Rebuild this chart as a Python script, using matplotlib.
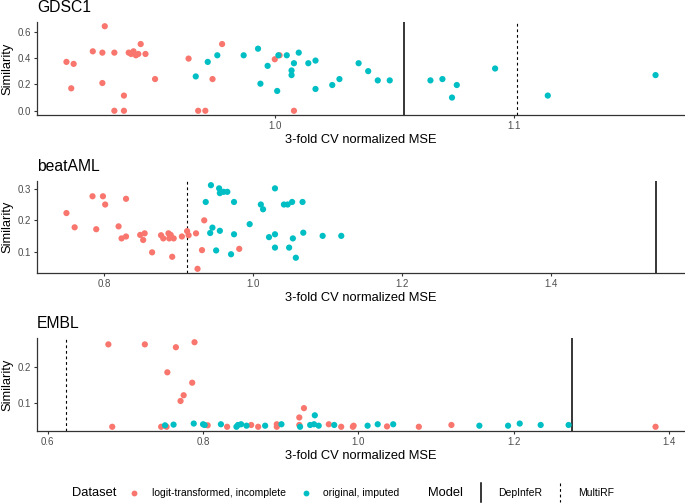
import numpy as np
import matplotlib
matplotlib.use("Agg")
import matplotlib.pyplot as plt
from matplotlib.lines import Line2D

plt.rcParams['font.family'] = ['Liberation Sans', 'DejaVu Sans']

RED = "#F8766D"
CYAN = "#00BFC4"

panels = ["GDSC1", "beatAML", "EMBL"]
dataset_labels = ["logit-transformed, incomplete", "original, imputed"]
model_labels = ["DepInfeR", "MultiRF"]

# ---------------- GDSC1 ----------------
gdsc_logit_x = [0.913, 0.916, 0.915, 0.929, 0.924, 0.928, 0.933, 0.928, 0.937, 0.933,
                0.937, 0.939, 0.941, 0.940, 0.942, 0.943, 0.944, 0.946, 0.950, 0.964,
                0.968, 0.971, 0.974, 0.978, 1.000, 1.002, 1.008]
gdsc_logit_y = [0.37, 0.355, 0.17, 0.64, 0.45, 0.44, 0.44, 0.21, 0.115, 0.0,
                0.0, 0.44, 0.45, 0.43, 0.42, 0.43, 0.505, 0.43, 0.24, 0.395,
                0.0, 0.0, 0.24, 0.505, 0.39, 0.42, 0.0]
gdsc_orig_x = [0.967, 0.972, 0.976, 0.987, 0.993, 0.994, 0.997, 1.001, 1.0015, 1.005,
               1.007, 1.007, 1.008, 1.010, 1.014, 1.017, 1.017, 1.024, 1.027, 1.035,
               1.039, 1.043, 1.048, 1.065, 1.070, 1.074, 1.076, 1.092, 1.114, 1.159]
gdsc_orig_y = [0.26, 0.37, 0.42, 0.42, 0.47, 0.205, 0.34, 0.15, 0.42, 0.42,
               0.305, 0.27, 0.36, 0.44, 0.36, 0.38, 0.165, 0.195, 0.24, 0.36,
               0.30, 0.23, 0.23, 0.23, 0.24, 0.10, 0.195, 0.32, 0.115, 0.27]
gdsc_vlines = [1.054, 1.101]  # DepInfeR, MultiRF

# ---------------- beatAML ----------------
beat_logit_x = [0.749, 0.760, 0.784, 0.798, 0.801, 0.789, 0.819, 0.829, 0.823, 0.829,
                0.848, 0.854, 0.852, 0.864, 0.876, 0.879, 0.886, 0.887, 0.889, 0.891,
                0.893, 0.904, 0.911, 0.913, 0.923, 0.925, 0.931, 0.934, 0.981]
beat_logit_y = [0.223, 0.178, 0.276, 0.276, 0.250, 0.172, 0.181, 0.268, 0.143, 0.149,
                0.154, 0.159, 0.138, 0.099, 0.153, 0.143, 0.159, 0.143, 0.154, 0.085,
                0.143, 0.149, 0.166, 0.153, 0.159, 0.047, 0.106, 0.200, 0.110]
beat_orig_x = [0.943, 0.936, 0.945, 0.942, 0.950, 0.955, 0.954, 0.955, 0.960, 0.965,
               0.974, 0.970, 0.974, 0.995, 1.010, 1.013, 1.021, 1.029, 1.029, 1.029,
               1.041, 1.046, 1.048, 1.052, 1.053, 1.057, 1.066, 1.067, 1.093, 1.118]
beat_orig_y = [0.311, 0.258, 0.177, 0.160, 0.105, 0.167, 0.301, 0.286, 0.290, 0.290,
               0.258, 0.093, 0.156, 0.188, 0.250, 0.235, 0.147, 0.114, 0.156, 0.301,
               0.250, 0.250, 0.114, 0.258, 0.143, 0.082, 0.258, 0.161, 0.151, 0.151]
beat_vlines = [1.540, 0.911]

# ---------------- EMBL ----------------
embl_logit_x = [0.678, 0.725, 0.765, 0.789, 0.754, 0.786, 0.775, 0.771, 0.683, 0.746,
                0.753, 0.806, 0.831, 0.862, 0.871, 0.895, 0.895, 0.924, 0.930, 0.924,
                0.962, 0.978, 0.994, 0.993, 1.037, 1.078, 1.120, 1.383]
embl_logit_y = [0.263, 0.263, 0.255, 0.269, 0.185, 0.156, 0.121, 0.105, 0.033, 0.033,
                0.033, 0.037, 0.033, 0.038, 0.033, 0.040, 0.033, 0.059, 0.085, 0.038,
                0.040, 0.033, 0.036, 0.033, 0.034, 0.033, 0.038, 0.033]
embl_orig_x = [0.751, 0.762, 0.788, 0.800, 0.802, 0.823, 0.843, 0.845, 0.849, 0.856,
               0.880, 0.901, 0.925, 0.938, 0.943, 0.944, 0.949, 0.969, 1.012, 1.025,
               1.045, 1.156, 1.193, 1.208, 1.235, 1.271]
embl_orig_y = [0.037, 0.039, 0.042, 0.040, 0.038, 0.040, 0.033, 0.038, 0.040, 0.036,
               0.036, 0.040, 0.033, 0.038, 0.040, 0.065, 0.036, 0.038, 0.036, 0.040,
               0.040, 0.036, 0.036, 0.042, 0.038, 0.038]
embl_vlines = [1.276, 0.624]

data = [
    (gdsc_logit_x, gdsc_logit_y, gdsc_orig_x, gdsc_orig_y, gdsc_vlines, [1.0, 1.1], [0.0, 0.2, 0.4, 0.6]),
    (beat_logit_x, beat_logit_y, beat_orig_x, beat_orig_y, beat_vlines, [0.8, 1.0, 1.2, 1.4], [0.1, 0.2, 0.3]),
    (embl_logit_x, embl_logit_y, embl_orig_x, embl_orig_y, embl_vlines, [0.6, 0.8, 1.0, 1.2, 1.4], [0.1, 0.2]),
]

W, H = 685, 503
fig = plt.figure(figsize=(W / 100, H / 100), dpi=100)

# axes boxes in pixels: (top, bottom)
boxes = [(22, 115), (181, 273), (338, 431)]
left_px = 37

AX_COL = "#333333"
TXT_COL = "#4D4D4D"

def expand(vals):
    lo, hi = min(vals), max(vals)
    r = hi - lo
    return lo - 0.05 * r, hi + 0.05 * r

for (name, (lx, ly, ox, oy, vl, xt, yt), (top, bot)) in zip(panels, data, boxes):
    ax = fig.add_axes([left_px / W, 1 - bot / H, (W - left_px) / W, (bot - top) / H])
    ax.scatter(lx, ly, s=20, color=RED, edgecolors='none', zorder=3)
    ax.scatter(ox, oy, s=20, color=CYAN, edgecolors='none', zorder=3)
    ax.axvline(vl[0], color='black', lw=1.1, ls='-', zorder=2)
    ax.axvline(vl[1], color='black', lw=0.8, ls=(0, (2.5, 2.5)), zorder=2)
    ax.set_xlim(*expand(list(lx) + list(ox) + list(vl)))
    ax.set_ylim(*expand(list(ly) + list(oy)))
    ax.set_xticks(xt)
    ax.set_xticklabels([f"{v:.1f}" for v in xt])
    ax.set_yticks(yt)
    ax.set_yticklabels([f"{v:.1f}" for v in yt])
    for s in ['top', 'right']:
        ax.spines[s].set_visible(False)
    for s in ['left', 'bottom']:
        ax.spines[s].set_color(AX_COL)
        ax.spines[s].set_linewidth(0.9)
    ax.tick_params(axis='both', colors=AX_COL, labelcolor=TXT_COL, labelsize=7,
                   length=2.5, width=0.8, pad=2)
    ax.set_xlabel("3-fold CV normalized MSE", fontsize=9.3, color='black', labelpad=2)
    ax.set_ylabel("Similarity", fontsize=9.3, color='black', labelpad=2.5)
    ax.set_title(name, loc='left', fontsize=11.3, color='black', pad=7)
    ax.set_facecolor('white')

# ---------------- legend ----------------
ly_px = 492.5
yf = 1 - ly_px / H
def fx(px):
    return px / W

fig.text(fx(72), yf, "Dataset", fontsize=9.3, va='center', ha='left')
fig.add_artist(Line2D([fx(134)], [yf], marker='o', markersize=4.2, color=RED, ls='none',
                      markeredgewidth=0, transform=fig.transFigure))
fig.text(fx(152), yf, dataset_labels[0], fontsize=7.5, va='center', ha='left')
fig.add_artist(Line2D([fx(306)], [yf], marker='o', markersize=4.2, color=CYAN, ls='none',
                      markeredgewidth=0, transform=fig.transFigure))
fig.text(fx(323), yf, dataset_labels[1], fontsize=7.5, va='center', ha='left')

fig.text(fx(428), yf, "Model", fontsize=9.3, va='center', ha='left')
fig.add_artist(Line2D([fx(481), fx(481)], [1 - 483 / H, 1 - 502 / H], color='black', lw=1.1,
                      transform=fig.transFigure))
fig.text(fx(498), yf, model_labels[0], fontsize=7.5, va='center', ha='left')
fig.add_artist(Line2D([fx(560), fx(560)], [1 - 483 / H, 1 - 502 / H], color='black', lw=0.8,
                      ls=(0, (2.5, 2.5)), transform=fig.transFigure))
fig.text(fx(578), yf, model_labels[1], fontsize=7.5, va='center', ha='left')

fig.savefig("out.png", dpi=100, facecolor='white')
